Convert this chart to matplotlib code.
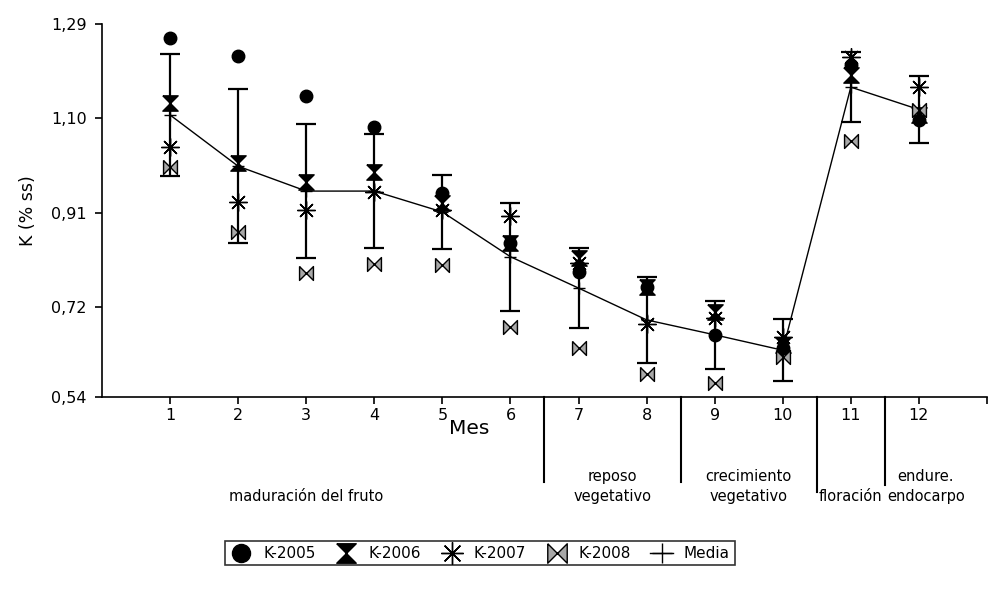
import matplotlib
matplotlib.use('Agg')
import matplotlib.pyplot as plt
from matplotlib.path import Path
from matplotlib.lines import Line2D

# data
meses = [1, 2, 3, 4, 5, 6, 7, 8, 9, 10, 11, 12]
k2005 = [1.262, 1.226, 1.145, 1.083, 0.950, 0.850, 0.791, 0.761, 0.665, 0.639, 1.208, 1.097]
k2006 = [1.131, 1.010, 0.972, 0.992, 0.930, 0.850, 0.820, 0.761, 0.710, 0.645, 1.187, 1.107]
k2007 = [1.043, 0.932, 0.916, 0.952, 0.915, 0.904, 0.810, 0.687, 0.699, 0.661, 1.224, 1.163]
k2008 = [1.002, 0.872, 0.789, 0.807, 0.805, 0.681, 0.639, 0.586, 0.568, 0.620, 1.055, 1.117]
media = [1.107, 1.004, 0.954, 0.954, 0.912, 0.822, 0.759, 0.695, 0.665, 0.634, 1.163, 1.118]
error = [0.123, 0.155, 0.135, 0.115, 0.075, 0.109, 0.080, 0.087, 0.068, 0.062, 0.070, 0.067]

yticks = [0.54, 0.72, 0.91, 1.10, 1.29]
ytick_labels = ['0,54', '0,72', '0,91', '1,10', '1,29']

# phases below the x axis: (x, lines of text)
fases = [(3.0, ['', 'maduración del fruto']),
         (7.5, ['reposo', 'vegetativo']),
         (9.5, ['crecimiento', 'vegetativo']),
         (11.0, ['', 'floración']),
         (12.1, ['endure.', 'endocarpo'])]
separadores = [6.5, 8.5, 10.5, 11.5]
sep_len = [0.228, 0.228, 0.255, 0.236]

plt.rcParams['font.family'] = ['DejaVu Sans']

hourglass = Path([(-1, 1), (1, 1), (-1, -1), (1, -1), (-1, 1)], closed=False)
bowtie = Path([(-1, 1), (-1, -1), (1, 1), (1, -1), (-1, 1)], closed=False)

fig = plt.figure(figsize=(10.02, 5.95), dpi=100)
ax = fig.add_axes([0.1018, 0.3328, 0.8832, 0.6269])

ax.errorbar(meses, media, yerr=error, color='k', lw=1, marker='+', ms=9,
            capsize=7, elinewidth=1.6, capthick=1.6, zorder=2)
ax.plot(meses, k2005, ls='none', marker='o', ms=9, color='k', zorder=3)
ax.plot(meses, k2006, ls='none', marker=hourglass, ms=11, color='k', zorder=3)
ax.plot(meses, k2007, ls='none', marker=(8, 2, 0), ms=13, mew=1, color='k', zorder=3)
ax.plot(meses, k2008, ls='none', marker=bowtie, ms=10, mfc='#a8a8a8', mec='k',
        mew=1, zorder=3)

ax.set_xlim(0, 13)
ax.set_ylim(0.54, 1.29)
ax.set_xticks(range(1, 14))
ax.set_xticklabels([str(m) for m in meses] + [''])
ax.set_yticks(yticks)
ax.set_yticklabels(ytick_labels)
ax.tick_params(axis='both', which='major', labelsize=11.5, length=5, width=1.2,
               direction='out', pad=3)
ax.tick_params(axis='y', pad=6)
ax.spines['top'].set_visible(False)
ax.spines['right'].set_visible(False)
ax.spines['left'].set_linewidth(1.2)
ax.spines['bottom'].set_linewidth(1.2)
ax.set_ylabel('K (% ss)', fontsize=12.5, labelpad=10)

tr = ax.get_xaxis_transform()
ax.text(5.4, -0.085, 'Mes', fontsize=14.5, ha='center', va='center', transform=tr)
for x, lines in fases:
    ax.text(x, -0.212, lines[0], fontsize=10.5, ha='center', va='center', transform=tr)
    ax.text(x, -0.268, lines[1], fontsize=10.5, ha='center', va='center', transform=tr)
for x, l in zip(separadores, sep_len):
    ax.plot([x, x], [0, -l], color='k', lw=1.5, transform=tr, clip_on=False)

handles = [
    Line2D([], [], ls='none', marker='o', ms=13, color='k'),
    Line2D([], [], ls='none', marker=hourglass, ms=14, color='k'),
    Line2D([], [], ls='none', marker=(8, 2, 0), ms=16, mew=1, color='k'),
    Line2D([], [], ls='none', marker=bowtie, ms=14, mfc='#a8a8a8', mec='k', mew=1),
    Line2D([], [], color='k', lw=1, marker='+', ms=15),
]
labels = ['K-2005', 'K-2006', 'K-2007', 'K-2008', 'Media']
leg = fig.legend(handles, labels, loc='center', bbox_to_anchor=(0.479, 0.07),
                 ncol=5, fontsize=11, frameon=True, fancybox=False,
                 edgecolor='k', borderpad=0.3, handlelength=1.5,
                 handletextpad=0.7, columnspacing=1.25, borderaxespad=0)
leg.get_frame().set_linewidth(1.2)

plt.savefig('out.png', dpi=100)
